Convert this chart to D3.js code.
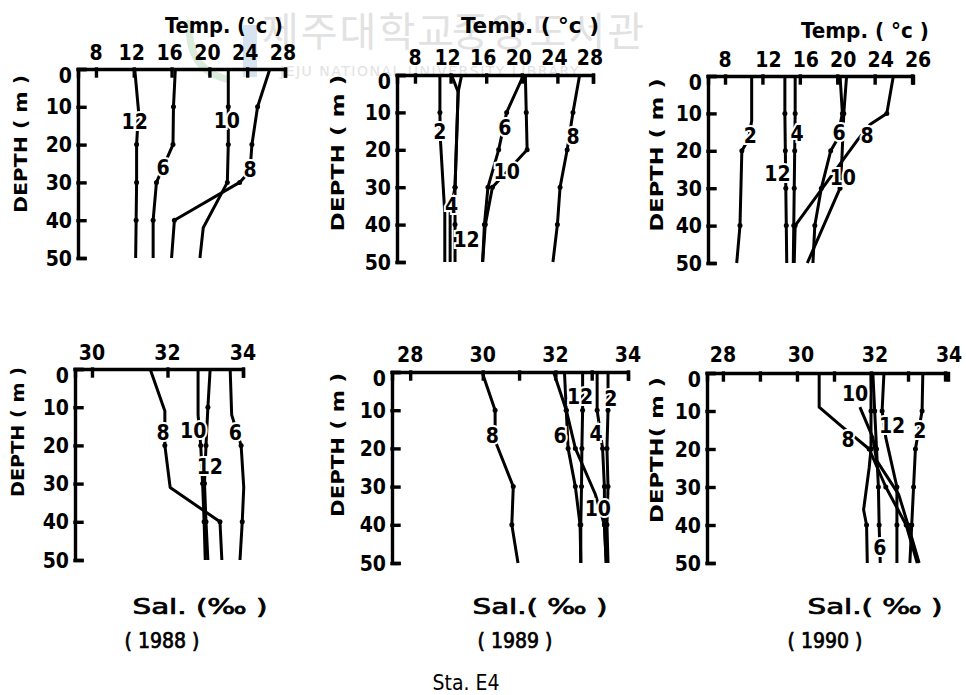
<!DOCTYPE html>
<html><head><meta charset="utf-8">
<script src="https://cdn.jsdelivr.net/npm/d3@7"></script>
<style>body{margin:0;background:#fff}svg{display:block}</style>
</head><body>
<svg id="c" width="966" height="695"></svg>
<script>
// ---------------- DATA ----------------
const depthTicks = [0, 10, 20, 30, 40, 50];
const tempTicks = [8, 12, 16, 20, 24, 28];
const tempTickLabels = ["8", "12", "16", "20", "24", "28"];
const tempTickLabels1990 = ["8", "12", "16", "20", "24", "26"];
const salTicks1988 = [30, 32, 34];
const salTicks1989 = [28, 30, 31, 32, 33, 34];
const salTicks1990 = [28, 29, 30, 31, 32, 33, 34];
const years = ["( 1988 )", "( 1989 )", "( 1990 )"];
const station = "Sta.  E4";

// series: [depth (m), value]
const temp1988 = [
  {m: "6",  pts: [[0,16.4],[10,16.2],[20,16.15],[30,14.4],[40,14.05],[50,14.05]]},
  {m: "8",  pts: [[0,26.4],[10,25.1],[20,24.5],[27,24.3],[30,23.2],[40,16.3],[50,16.0]]},
  {m: "10", pts: [[0,22.0],[10,22.0],[20,22.0],[30,21.9],[42,19.35],[50,19.0]]},
  {m: "12", pts: [[0,12.1],[11,12.5],[20,12.3],[30,12.3],[40,12.25],[50,12.2]]}
];
const temp1989 = [
  {m: "2",  pts: [[0,10.8],[10,10.8],[17,10.85],[37,11.35],[50,11.35]]},
  {m: "4",  pts: [[0,12.1],[4.5,12.85],[30,12.5],[37,11.95],[50,11.95]]},
  {m: "6",  pts: [[0,20.2],[10,18.3],[20,17.4],[30,16.2],[40,15.8],[50,15.6]]},
  {m: "8",  pts: [[0,26.5],[10,25.75],[20,25.1],[30,24.3],[40,24.0],[50,23.5]]},
  {m: "10", pts: [[0,20.4],[10,20.5],[20,20.6],[30,16.7],[40,15.9],[50,15.6]]},
  {m: "12", pts: [[0,13.25],[4.5,12.85],[30,12.5],[40,12.5],[50,12.5]]}
];
const temp1990 = [
  {m: "2",  pts: [[0,10.85],[12,10.85],[17,10.5],[20,9.8],[40,9.6],[50,9.25]]},
  {m: "4",  pts: [[0,15.5],[10,15.5],[20,15.45],[30,15.4],[40,15.35],[50,15.3]]},
  {m: "6",  pts: [[0,20.3],[10,20.55],[17,20.0],[20,19.3],[30,18.3],[40,17.6],[50,17.4]]},
  {m: "8",  pts: [[0,26.0],[10,25.3],[13,23.5],[17,22.2],[40,15.5],[50,15.4]]},
  {m: "10", pts: [[0,21.0],[10,20.7],[22,20.5],[30,20.3],[50,16.8]]},
  {m: "12", pts: [[0,14.4],[10,14.4],[20,14.45],[30,14.5],[40,14.55],[50,14.6]]}
];
const sal1988 = [
  {m: "6",  pts: [[0,33.66],[12,33.7],[20,33.95],[31,34.02],[40,33.98],[50,33.92]]},
  {m: "8",  pts: [[0,31.54],[11,31.93],[20,31.93],[31,32.07],[40,33.39],[50,33.44]]},
  {m: "10", pts: [[0,32.81],[12,32.81],[20,32.88],[30,32.93],[40,32.97],[50,33.0]]},
  {m: "12", pts: [[0,33.13],[10,33.07],[20,33.02],[30,32.98],[40,33.02],[50,33.07]]}
];
const sal1989 = [
  {m: "2",  pts: [[0,33.45],[10,33.45],[20,33.42],[30,33.45],[40,33.42],[50,33.45]]},
  {m: "4",  pts: [[0,33.15],[10,33.15],[20,33.3],[30,33.35],[40,33.35],[50,33.4]]},
  {m: "6",  pts: [[0,32.25],[10,32.3],[20,32.35],[30,32.55],[40,32.68],[50,32.7]]},
  {m: "8",  pts: [[0,29.98],[10,30.34],[18,30.34],[30,30.84],[40,30.8],[50,30.97]]},
  {m: "10", pts: [[0,31.95],[10,32.3],[20,32.55],[32,33.1],[40,33.35],[50,33.4]]},
  {m: "12", pts: [[0,32.75],[10,32.75],[20,32.73],[30,32.72],[40,32.7],[50,32.7]]}
];
const sal1990 = [
  {m: "2",  pts: [[0,33.4],[10,33.38],[20,33.2],[30,33.15],[40,33.1],[50,33.05]]},
  {m: "4",  pts: [[0,32.0],[10,32.0],[20,32.0],[25,31.95],[36,31.8],[40,31.88],[50,31.9]]},
  {m: "6",  pts: [[0,32.05],[10,32.1],[20,32.15],[30,32.2],[40,32.22],[50,32.25]]},
  {m: "8",  pts: [[0,30.6],[9,30.6],[14,31.2],[20,31.95],[30,32.4],[40,32.95],[50,33.25]]},
  {m: "10", pts: [[9,31.7],[17,32.05],[23,32.15],[32,32.75],[40,33.0],[50,33.3]]},
  {m: "12", pts: [[0,32.35],[10,32.3],[17,32.4],[30,32.7],[40,32.7],[50,32.7]]}
];
// month label anchors: [text, depth, value]
const lab1988T = [["12",14,12.1],["6",26,15.1],["10",13.5,21.85],["8",26.7,24.3]];
const lab1989T = [["2",15.2,10.8],["6",14.1,18.1],["8",16.5,25.75],["10",25.8,18.3],["4",35,12.1],["12",44,13.8]];
const lab1990T = [["2",15.8,10.7],["4",15.3,15.7],["12",26,13.6],["6",15,20.2],["8",15.8,23.2],["10",27,20.6]];
const lab1988S = [["8",16.5,31.88],["10",16,32.68],["12",25.6,33.12],["6",16.5,33.8]];
const lab1989S = [["8",16.5,30.26],["6",16.5,32.13],["12",6.5,32.68],["2",6.8,33.53],["4",16,33.12],["10",35.6,33.17]];
const lab1990S = [["10",5.3,31.57],["8",17.6,31.38],["12",13.7,32.57],["2",15,33.32],["6",45.8,32.24]];

// ---------------- LAYOUT ----------------
const FONT = "'DejaVu Sans Condensed','DejaVu Sans',sans-serif";
const svg = d3.select("#c");

// faint library watermark (from the scanned original)
const wm = svg.append("g");
wm.append("path").attr("d","M190,20 Q185,70 230,80").attr("fill","none").attr("stroke","#dcecdc").attr("stroke-width",7);
wm.append("rect").attr("x",243).attr("y",25).attr("width",14).attr("height",52).attr("fill","#d6e4f2");
wm.append("text").attr("x",262).attr("y",46).text("제주대학교")
  .attr("font-family","'Noto Sans CJK KR'").attr("font-size",40).attr("fill","#e2e2e2").attr("letter-spacing",2);
wm.append("text").attr("x",452).attr("y",46).text("중앙도서관")
  .attr("font-family","'Noto Sans CJK KR'").attr("font-size",40).attr("fill","#e2e2e2").attr("letter-spacing",2);
wm.append("text").attr("x",280).attr("y",76).text("JEJU NATIONAL UNIVERSITY LIBRARY")
  .attr("font-family","'DejaVu Sans'").attr("font-size",14).attr("fill","#e2e2e2").attr("letter-spacing",1.5);

const panels = [
  {series: temp1988, labs: lab1988T, left:78, right:285, top:69, bottom:258, dom:[6.1,28],
   ticks: tempTicks, tickText: tempTickLabels, tickY:60, tickDx:-2,
   title:"Temp. (°c )", titleX:224, titleY:33, titleW:118,
   depthX:21, depthY:144, depthLen:138, depthText:"DEPTH ( m )"},
  {series: temp1989, labs: lab1989T, left:397, right:593, top:75, bottom:262, dom:[5.98,28],
   ticks: tempTicks, tickText: tempTickLabels, tickY:65, tickDx:-3,
   title:"Temp. ( °c )", titleX:530, titleY:33, titleW:138,
   depthX:338, depthY:153, depthLen:157, depthText:"DEPTH ( m )"},
  {series: temp1990, labs: lab1990T, left:708, right:913, top:76, bottom:263, dom:[6.18,28.1],
   ticks: tempTicks, tickText: tempTickLabels1990, tickY:67, tickDx:6,
   title:"Temp. ( °c )", titleX:865, titleY:38, titleW:128,
   depthX:657, depthY:155, depthLen:153, depthText:"DEPTH ( m )"},
  {series: sal1988, labs: lab1988S, left:75, right:243, top:369, bottom:560, dom:[29.55,34],
   ticks: salTicks1988, tickText: null, tickY:360, tickDx:0,
   depthX:18, depthY:432, depthLen:130, depthText:"DEPTH ( m )"},
  {series: sal1989, labs: lab1989S, left:392, right:628, top:372, bottom:563, dom:[27.5,34],
   ticks: salTicks1989, tickText: null, tickY:362, tickDx:0,
   depthX:338, depthY:445, depthLen:144, depthText:"DEPTH ( m )"},
  {series: sal1990, labs: lab1990S, left:707, right:948, top:373, bottom:563, dom:[27.57,34.08],
   ticks: salTicks1990, tickText: null, tickY:362, tickDx:4,
   depthX:657, depthY:450, depthLen:146, depthText:"DEPTH( m )"}
];

panels.forEach(p => {
  const x = d3.scaleLinear().domain(p.dom).range([p.left, p.right]);
  const y = d3.scaleLinear().domain([0, 50]).range([p.top, p.bottom]);
  const g = svg.append("g");

  // top axis (ticks pointing down, inside)
  const ax = g.append("g").attr("transform", `translate(0,${p.top})`)
    .call(d3.axisTop(x).tickValues(p.ticks).tickSizeInner(-7).tickSizeOuter(-7).tickFormat(""));
  // left axis (ticks pointing right, inside)
  const ay = g.append("g").attr("transform", `translate(${p.left},0)`)
    .call(d3.axisLeft(y).tickValues(depthTicks).tickSizeInner(-7).tickSizeOuter(-7).tickFormat(""));
  [ax, ay].forEach(a => {
    a.selectAll("path,line").attr("stroke", "#000").attr("stroke-width", 3.4).attr("stroke-linecap", "square");
  });

  // top tick labels
  g.selectAll(".tl").data(p.ticks).join("text")
    .attr("x", (d, i) => x(d) + (i === 0 ? 0 : p.tickDx))
    .attr("y", p.tickY).attr("text-anchor", "middle")
    .attr("font-family", FONT).attr("font-weight", "bold").attr("font-size", 21)
    .text((d, i) => p.tickText ? p.tickText[i] : (d % 2 === 0 ? d : ""));

  // depth labels
  g.selectAll(".dl").data(depthTicks).join("text")
    .attr("x", p.left - 6).attr("y", d => y(d) + (d === 0 ? 6 : 0))
    .attr("dy", "0.36em").attr("text-anchor", "end")
    .attr("font-family", FONT).attr("font-weight", "bold").attr("font-size", 21)
    .text(d => d);

  // DEPTH axis title
  g.append("text").attr("transform", `translate(${p.depthX},${p.depthY}) rotate(-90)`)
    .attr("text-anchor", "middle").attr("dy", "0.36em")
    .attr("font-family", FONT).attr("font-weight", "bold").attr("font-size", 17)
    .attr("textLength", p.depthLen).attr("lengthAdjust", "spacingAndGlyphs")
    .text(p.depthText);

  if (p.title) {
    g.append("text").attr("x", p.titleX).attr("y", p.titleY).attr("text-anchor", "middle")
      .attr("font-family", FONT).attr("font-weight", "bold").attr("font-size", 22)
      .attr("textLength", p.titleW).attr("lengthAdjust", "spacingAndGlyphs")
      .text(p.title);
  }

  // profile lines
  const line = d3.line().x(d => x(d[1])).y(d => y(d[0]));
  g.selectAll(".prof").data(p.series).join("path")
    .attr("d", s => line(s.pts)).attr("fill", "none")
    .attr("stroke", "#000").attr("stroke-width", 3).attr("stroke-linejoin", "round");
  // small measurement marks
  const marks = p.series.flatMap(s => s.pts.filter(d => d[0] > 0 && d[0] < 50 && d[0] % 10 === 0));
  g.selectAll(".mk").data(marks).join("circle")
    .attr("cx", d => x(d[1])).attr("cy", d => y(d[0])).attr("r", 2.5).attr("fill", "#000");

  // month labels with white halo (breaks the lines like the original)
  g.selectAll(".ml").data(p.labs).join("text")
    .attr("x", d => x(d[2])).attr("y", d => y(d[1])).attr("dy", "0.36em")
    .attr("text-anchor", "middle")
    .attr("font-family", FONT).attr("font-weight", "bold").attr("font-size", 21)
    .attr("stroke", "#fff").attr("stroke-width", 4).attr("paint-order", "stroke")
    .attr("fill", "#000").text(d => d[0]);
});

// bottom captions
const salX = [200, 540, 875];
svg.selectAll(".sal").data(salX).join("text")
  .attr("x", d => d).attr("y", 614).attr("text-anchor", "middle")
  .attr("font-family", FONT).attr("font-size", 22)
  .attr("stroke", "#000").attr("stroke-width", 0.7)
  .attr("textLength", 135).attr("lengthAdjust", "spacingAndGlyphs")
  .text((d, i) => i === 0 ? "Sal. (‰ )" : "Sal.( ‰ )");
const yearX = [162, 515, 825];
svg.selectAll(".yr").data(years).join("text")
  .attr("x", (d, i) => yearX[i]).attr("y", 648).attr("text-anchor", "middle")
  .attr("font-family", FONT).attr("font-size", 21)
  .attr("stroke", "#000").attr("stroke-width", 0.7)
  .text(d => d);
svg.append("text").attr("x", 466).attr("y", 690).attr("text-anchor", "middle")
  .attr("font-family", FONT).attr("font-size", 21)
  .text(station);
</script>
</body></html>
